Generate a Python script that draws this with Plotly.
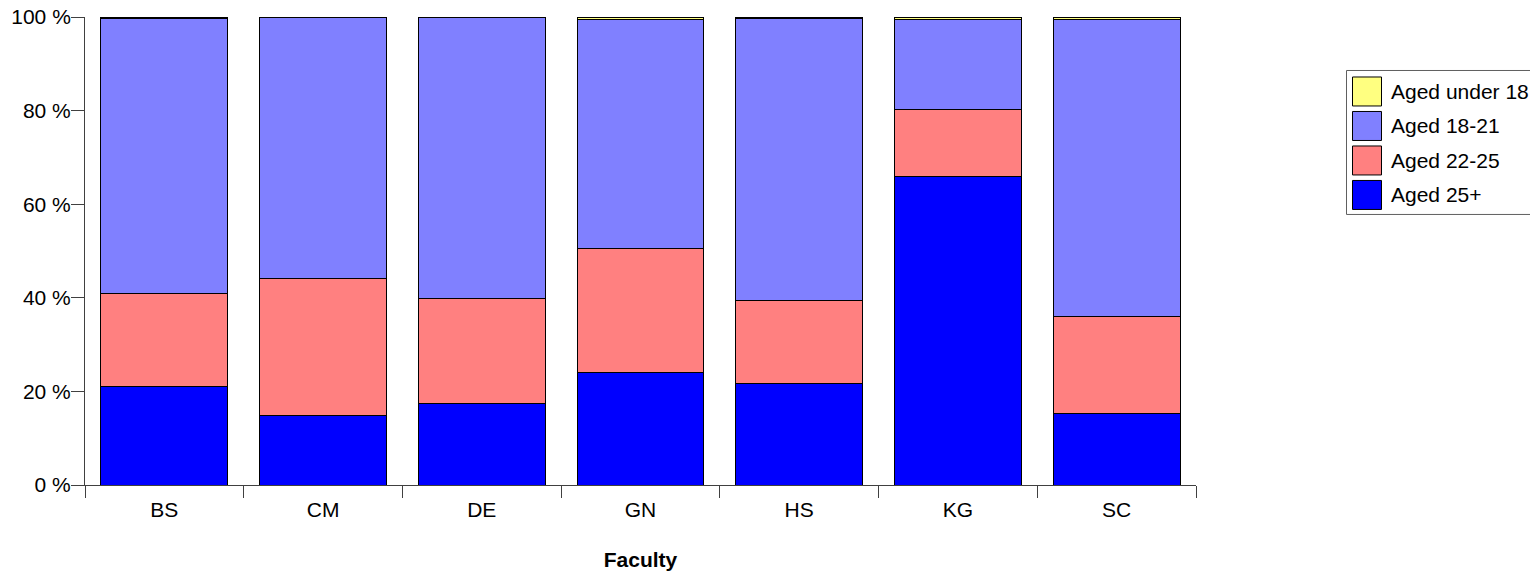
import plotly.graph_objects as go

faculties = ["BS", "CM", "DE", "GN", "HS", "KG", "SC"]
aged_25_plus = [21.1, 14.8, 17.4, 24.0, 21.7, 66.0, 15.2]
aged_22_25 = [19.9, 29.3, 22.5, 26.5, 17.7, 14.2, 20.9]
aged_18_21 = [58.6, 55.8, 60.0, 49.0, 60.3, 19.3, 63.4]
aged_under_18 = [0.4, 0.1, 0.1, 0.5, 0.3, 0.5, 0.5]
y_ticks = [0, 20, 40, 60, 80, 100]
y_tick_labels = [f"{v} %" for v in y_ticks]

series = [
    ("Aged 25+", aged_25_plus, "#0000FF"),
    ("Aged 22-25", aged_22_25, "#FF8080"),
    ("Aged 18-21", aged_18_21, "#8080FF"),
    ("Aged under 18", aged_under_18, "#FFFF80"),
]

OFF = 8  # page body margin
W, H = 1538 - OFF, 571 - OFF
# plot area in page pixels (reference)
L, R, T, B = 85, 1196, 16.5, 484.6
FONT = "Liberation Sans, Arial, sans-serif"
FS = 21

fig = go.Figure()
for name, vals, col in series:
    fig.add_trace(go.Bar(
        x=faculties, y=vals, name=name,
        marker=dict(color=col, line=dict(color="#000000", width=1)),
        showlegend=False,
    ))

fig.update_layout(
    width=W, height=H,
    barmode="stack", bargap=0.2,
    plot_bgcolor="white", paper_bgcolor="white",
    margin=dict(l=L - OFF, r=W - (R - OFF), t=T - OFF, b=H - (B - OFF), autoexpand=False),
    font=dict(family=FONT, size=FS, color="#000000"),
)
fig.update_xaxes(
    showline=True, linecolor="#404040", linewidth=1,
    ticks="outside", tickson="boundaries", ticklen=12, tickcolor="#404040",
    ticklabelstandoff=6,
    showgrid=False, automargin=False,
    title=dict(text="<b>Faculty</b>", font=dict(size=FS), standoff=32),
)
fig.update_yaxes(
    range=[0, 100], tickvals=y_ticks, ticktext=y_tick_labels,
    showline=True, linecolor="#404040", linewidth=1,
    ticks="outside", ticklen=13, tickcolor="#404040",
    ticklabelstandoff=-4, ticklabeloverflow="allow",
    showgrid=False, zeroline=False, automargin=False,
)

# custom legend (paper coords computed from reference pixel positions)
def px_x(p):
    return (p - L) / (R - L)

def px_y(p):
    return (B - p) / (B - T)

fig.add_shape(type="rect", xref="paper", yref="paper",
              x0=px_x(1346.5), x1=px_x(1540), y0=px_y(214), y1=px_y(70),
              line=dict(color="#606060", width=1), fillcolor="white")
legend_order = [series[3], series[2], series[1], series[0]]
for i, (name, vals, col) in enumerate(legend_order):
    top = 76.5 + i * 34.5
    fig.add_shape(type="rect", xref="paper", yref="paper",
                  x0=px_x(1352.5), x1=px_x(1381.5), y0=px_y(top + 29), y1=px_y(top),
                  line=dict(color="#000000", width=1), fillcolor=col)
    fig.add_annotation(xref="paper", yref="paper", x=px_x(1389), y=px_y(top + 14.5),
                       text=name, showarrow=False, xanchor="left", yanchor="middle",
                       font=dict(size=FS, family=FONT, color="#000000"))

fig.write_html("out.html")
